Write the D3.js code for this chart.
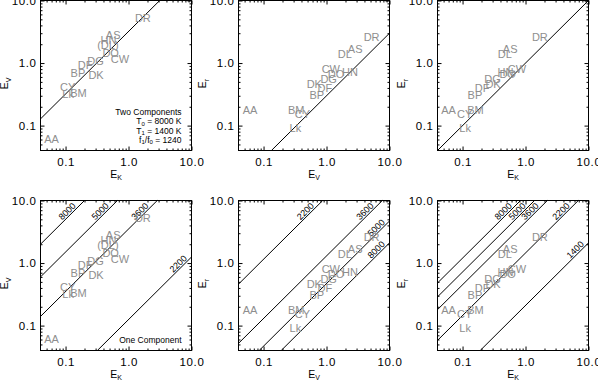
<!DOCTYPE html>
<html><head><meta charset="utf-8">
<script src="https://cdn.jsdelivr.net/npm/d3@7"></script>
<style>body{margin:0;background:#fff}</style>
</head><body><svg id="c" width="598" height="380"></svg>
<script>
// ---- data ----
const stars   = ["AA","AS","BM","BP","CW","CY","DF","DG","DK","DL","DO","DR","HN","Lk"];
const eK      = [0.060,0.57,0.160,0.157,0.73,0.108,0.205,0.30,0.305,0.47,0.52,1.69,0.48,0.110];
const eV      = [0.061,2.85,0.33,0.70,1.17,0.415,0.94,1.08,0.64,1.95,1.42,5.2,2.35,0.32];
const eR      = [0.176,1.67,0.176,0.31,0.80,0.152,0.40,0.56,0.455,1.37,0.66,2.56,0.71,0.092];
const kvLabels = ["AA","AS","BM","BP","CW","CY","DF","DG","DK","(DL)","DO","DR","HN","Lk"];

const axisDomain = [0.04, 10];
const majorTicks = [0.1, 1, 10];
const majorTickLabels = ["0.1", "1.0", "10.0"];
const minorTicks = [0.05,0.06,0.07,0.08,0.09,0.2,0.3,0.4,0.5,0.6,0.7,0.8,0.9,2,3,4,5,6,7,8,9];

// two-component model ratio (y/x) for top panels
const twoCompRatio = [3.2, 0.30, 1.0];
const legendLines = ["Two Components", "T0 = 8000 K", "T1 = 1400 K", "f1/f0 = 1240"];

// one-component blackbody ratios for bottom panels
const oneTempsP4 = ["8000","5000","3600","2200"];
const oneRatioP4 = [50, 15, 3.5, 0.125];
const oneTempsP5 = ["2200","3600","5000","8000"];
const oneRatioP5 = [11.5, 1.3, 0.47, 0.21];
const oneTempsP6 = ["8000","5000","3600","2200","1400"];
const oneRatioP6 = [12, 7.2, 4.5, 1.45, 0.21];

// ---- layout ----
const svg = d3.select("#c");
const FONT = "'Liberation Sans', Arial, Helvetica, sans-serif";
const colX = [40.5, 238.5, 437.5];
const rowY = [0.5, 200.5];
const W = 151, H = 150;

const series = {K: eK, V: eV, R: eR};
const subs = {K: "K", V: "V", R: "r"};

const panels = [
  {col:0,row:0,xk:"K",yk:"V",type:"two",idx:0},
  {col:1,row:0,xk:"V",yk:"R",type:"two",idx:1},
  {col:2,row:0,xk:"K",yk:"R",type:"two",idx:2},
  {col:0,row:1,xk:"K",yk:"V",type:"one",temps:oneTempsP4,ratios:oneRatioP4},
  {col:1,row:1,xk:"V",yk:"R",type:"one",temps:oneTempsP5,ratios:oneRatioP5},
  {col:2,row:1,xk:"K",yk:"R",type:"one",temps:oneTempsP6,ratios:oneRatioP6}
];

function subText(sel, main, sub, subSize, shift) {
  sel.append("tspan").text(main);
  sel.append("tspan").attr("font-size", subSize).attr("dy", shift).text(sub);
}

panels.forEach((p) => {
  const x0 = colX[p.col], y0 = rowY[p.row];
  const x = d3.scaleLog().domain(axisDomain).range([x0, x0 + W]);
  const y = d3.scaleLog().domain(axisDomain).range([y0 + H, y0]);
  const g = svg.append("g");

  const styleAxis = a => { a.select(".domain").remove(); a.selectAll("line").attr("stroke","#000").attr("stroke-width",1); };
  const styleText = a => a.selectAll("text").attr("font-family",FONT).attr("font-size",11.5).attr("fill","#000").attr("letter-spacing","0.6px");
  g.append("g").attr("transform",`translate(0,${y0+H})`)
    .call(d3.axisBottom(x).tickValues(majorTicks).tickSize(-4).tickPadding(7).tickFormat((d,i)=>majorTickLabels[i]))
    .call(styleAxis).call(styleText);
  g.append("g").attr("transform",`translate(0,${y0+H})`)
    .call(d3.axisBottom(x).tickValues(minorTicks).tickSize(-2).tickFormat(""))
    .call(styleAxis);
  g.append("g").attr("transform",`translate(0,${y0})`)
    .call(d3.axisTop(x).tickValues(majorTicks).tickSize(-4).tickFormat(""))
    .call(styleAxis);
  g.append("g").attr("transform",`translate(0,${y0})`)
    .call(d3.axisTop(x).tickValues(minorTicks).tickSize(-2).tickFormat(""))
    .call(styleAxis);
  g.append("g").attr("transform",`translate(${x0},0)`)
    .call(d3.axisLeft(y).tickValues(majorTicks).tickSize(-4).tickPadding(4).tickFormat((d,i)=>majorTickLabels[i]))
    .call(styleAxis).call(styleText);
  g.append("g").attr("transform",`translate(${x0},0)`)
    .call(d3.axisLeft(y).tickValues(minorTicks).tickSize(-2).tickFormat(""))
    .call(styleAxis);
  g.append("g").attr("transform",`translate(${x0+W},0)`)
    .call(d3.axisRight(y).tickValues(majorTicks).tickSize(-4).tickFormat(""))
    .call(styleAxis);
  g.append("g").attr("transform",`translate(${x0+W},0)`)
    .call(d3.axisRight(y).tickValues(minorTicks).tickSize(-2).tickFormat(""))
    .call(styleAxis);

  g.append("rect").attr("x",x0).attr("y",y0).attr("width",W).attr("height",H)
    .attr("fill","none").attr("stroke","#000").attr("stroke-width",1);

  // axis titles
  const xt = g.append("text").attr("x", x0 + W/2).attr("y", y0 + H + 27)
    .attr("text-anchor","middle").attr("font-family",FONT).attr("font-size",10.5);
  subText(xt, "E", subs[p.xk], 7, 2.5);
  const yt = g.append("text")
    .attr("transform",`translate(${x0-32.5},${y0+83}) rotate(-90)`)
    .attr("text-anchor","middle").attr("font-family",FONT).attr("font-size",10.5);
  subText(yt, "E", subs[p.yk], 7, 2.5);

  // model lines
  const ratios = p.type === "two" ? [twoCompRatio[p.idx]] : p.ratios;
  const line = d3.line().x(d=>x(d[0])).y(d=>y(d[1]));
  ratios.forEach((c, li) => {
    const xa = Math.max(axisDomain[0], axisDomain[0]/c);
    const xb = Math.min(axisDomain[1], axisDomain[1]/c);
    g.append("path").attr("d", line([[xa, c*xa],[xb, c*xb]]))
      .attr("fill","none").attr("stroke","#000").attr("stroke-width",1);
    if (p.type === "one") {
      const ax = x(xa), ay = y(c*xa), ex = x(xb), ey = y(c*xb);
      const len = Math.hypot(ex-ax, ey-ay);
      const ux = (ex-ax)/len, uy = (ey-ay)/len;
      const s = Math.max(0, (ex - (x0+W-3))/ux, (y0+7 - ey)/(-uy));
      const px = ex - s*ux + 1.5*uy, py = ey - s*uy - 1.5*ux;
      const ang = Math.atan2(uy, ux) * 180 / Math.PI;
      g.append("text").attr("transform",`translate(${px},${py}) rotate(${ang})`)
        .attr("text-anchor","end").attr("font-family",FONT).attr("font-size",9)
        .text(p.temps[li]);
    }
  });

  // star labels
  const xs = series[p.xk], ys = series[p.yk];
  const useKV = p.xk === "K" && p.yk === "V";
  g.append("g").selectAll("text").data(stars).join("text")
    .attr("x",(d,i)=>x(xs[i])).attr("y",(d,i)=>y(ys[i]))
    .attr("dy","0.36em").attr("text-anchor","middle")
    .attr("font-family",FONT).attr("font-size",11).attr("fill","#8e8e8e")
    .text((d,i)=> useKV ? kvLabels[i] : d);

  // legends
  if (p.type === "two" && p.idx === 0) {
    const lx = x0 + 141;
    const base = [114.5, 123.8, 133.1, 142.4];
    const mk = (yy) => g.append("text").attr("x",lx).attr("y",y0+yy).attr("text-anchor","end")
      .attr("font-family",FONT).attr("font-size",8.5);
    mk(base[0]).text(legendLines[0]);
    const t1 = mk(base[1]);
    t1.append("tspan").text("T");
    t1.append("tspan").attr("font-size",6).attr("dy",1.5).text("0");
    t1.append("tspan").attr("dy",-1.5).text(" = 8000 K");
    const t2 = mk(base[2]);
    t2.append("tspan").text("T");
    t2.append("tspan").attr("font-size",6).attr("dy",1.5).text("1");
    t2.append("tspan").attr("dy",-1.5).text(" = 1400 K");
    const t3 = mk(base[3]);
    t3.append("tspan").text("f");
    t3.append("tspan").attr("font-size",6).attr("dy",1.5).text("1");
    t3.append("tspan").attr("dy",-1.5).text("/f");
    t3.append("tspan").attr("font-size",6).attr("dy",1.5).text("0");
    t3.append("tspan").attr("dy",-1.5).text(" = 1240");
  }
  if (p.type === "one" && p.col === 0) {
    g.append("text").attr("x",x0+141).attr("y",y0+142.3).attr("text-anchor","end")
      .attr("font-family",FONT).attr("font-size",8.5).text("One Component");
  }
});
</script></body></html>
